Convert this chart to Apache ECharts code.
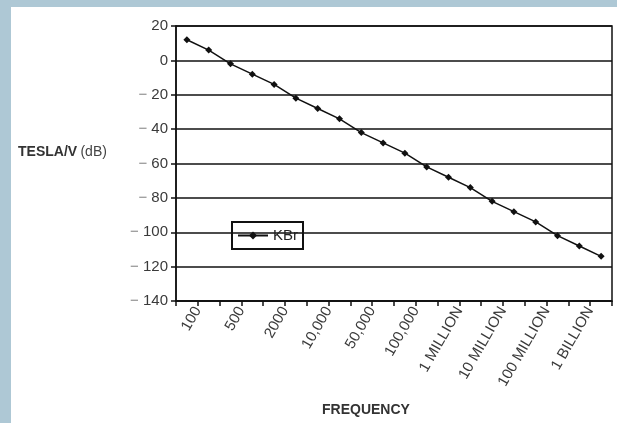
<!DOCTYPE html>
<html>
<head>
<meta charset="utf-8">
<script src="https://cdn.jsdelivr.net/npm/echarts@6/dist/echarts.min.js"></script>
<style>
  html, body { margin: 0; padding: 0; background: #aec8d5; }
  #chart { position: absolute; left: 11px; top: 7px; width: 606px; height: 416px; background: #fff; }
</style>
</head>
<body>
<div id="chart"></div>
<script>
// one point per frequency step, 20 steps
const points = ['1', '2', '3', '4', '5', '6', '7', '8', '9', '10',
  '11', '12', '13', '14', '15', '16', '17', '18', '19', '20'];
const kbr = [12, 6, -2, -8, -14, -22, -28, -34, -42, -48,
  -54, -62, -68, -74, -82, -88, -94, -102, -108, -114];
// labels sit on the step boundaries (21 of them)
const freqLabels = ['', '100', '', '500', '', '2000', '', '10,000', '', '50,000', '',
  '100,000', '', '1 MILLION', '', '10 MILLION', '', '100 MILLION', '', '1 BILLION', ''];

const font = 'Liberation Sans';
const chart = echarts.init(document.getElementById('chart'), null, { renderer: 'canvas' });

chart.setOption({
  animation: false,
  textStyle: { fontFamily: font },
  grid: {
    left: 165, right: 5, top: 19, bottom: 122,
    show: true, borderColor: '#111', borderWidth: 1.5, backgroundColor: '#fff'
  },
  legend: {
    left: 221, top: 215,
    data: ['KBr'],
    borderColor: '#111', borderWidth: 2,
    padding: [6, 5, 6, 5],
    itemGap: 5,
    itemWidth: 30, itemHeight: 10,
    textStyle: { fontSize: 15, color: '#222', fontFamily: font }
  },
  xAxis: [
    {
      type: 'category',
      data: points,
      boundaryGap: true,
      axisLine: { onZero: false, lineStyle: { color: '#111', width: 1.5 } },
      axisTick: { show: true, interval: 0, length: 5, lineStyle: { color: '#111', width: 1.5 } },
      axisLabel: { show: false },
      splitLine: { show: false }
    },
    {
      type: 'category',
      data: freqLabels,
      boundaryGap: false,
      position: 'bottom',
      axisLine: { show: false, onZero: false },
      axisTick: { show: false },
      splitLine: { show: false },
      axisLabel: {
        interval: 0,
        rotate: 60,
        margin: 7,
        fontSize: 15,
        color: '#3a3a3a',
        fontFamily: font
      }
    }
  ],
  yAxis: {
    type: 'value',
    min: -140, max: 20, interval: 20,
    axisLine: { show: true, lineStyle: { color: '#111', width: 1.5 } },
    axisTick: { show: true, length: 5, lineStyle: { color: '#111', width: 1.5 } },
    splitLine: { lineStyle: { color: '#111', width: 1.5 } },
    axisLabel: {
      margin: 8,
      fontSize: 15,
      color: '#3a3a3a',
      fontFamily: font,
      formatter: v => v < 0 ? '{m|\u2212 }' + Math.abs(v) : String(v),
      rich: { m: { color: '#888', fontSize: 15, fontFamily: font } }
    }
  },
  graphic: [
    {
      type: 'text', left: 7, top: 138,
      style: {
        text: '{b|TESLA/V} {n|(dB)}',
        rich: {
          b: { fontWeight: 'bold', fontSize: 14, fill: '#333', fontFamily: font },
          n: { fontSize: 14, fill: '#444', fontFamily: font }
        }
      }
    },
    {
      type: 'text', left: 311, top: 396,
      style: { text: 'FREQUENCY', fontWeight: 'bold', fontSize: 14, fill: '#333', fontFamily: font }
    }
  ],
  series: [
    {
      name: 'KBr',
      type: 'line',
      xAxisIndex: 0,
      data: kbr,
      symbol: 'diamond',
      symbolSize: 7,
      itemStyle: { color: '#111' },
      lineStyle: { color: '#111', width: 1.5 }
    }
  ]
});
</script>
</body>
</html>
